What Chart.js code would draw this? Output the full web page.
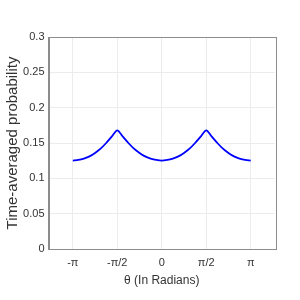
<!DOCTYPE html>
<html>
<head>
<meta charset="utf-8">
<script src="https://cdn.jsdelivr.net/npm/chart.js@4"></script>
<style>
  html, body { margin: 0; padding: 0; background: #fff; }
  #wrap { width: 300px; height: 300px; }
</style>
</head>
<body>
<div id="wrap"><canvas id="chart"></canvas></div>
<script>
// theta in units of pi, step pi/16
const thetaOverPi = [-1, -15/16, -14/16, -13/16, -12/16, -11/16, -10/16, -9/16, -8/16,
  -7/16, -6/16, -5/16, -4/16, -3/16, -2/16, -1/16, 0,
  1/16, 2/16, 3/16, 4/16, 5/16, 6/16, 7/16, 8/16,
  9/16, 10/16, 11/16, 12/16, 13/16, 14/16, 15/16, 1];
const probability = [0.125, 0.126, 0.128, 0.131, 0.136, 0.142, 0.150, 0.159, 0.168,
  0.159, 0.150, 0.142, 0.136, 0.131, 0.128, 0.126, 0.125,
  0.126, 0.128, 0.131, 0.136, 0.142, 0.150, 0.159, 0.168,
  0.159, 0.150, 0.142, 0.136, 0.131, 0.128, 0.126, 0.125];
const xTickValues = [-Math.PI, -Math.PI / 2, 0, Math.PI / 2, Math.PI];
const xTickLabels = ['-\u03c0', '-\u03c0/2', '0', '\u03c0/2', '\u03c0'];
const yTickValues = [0, 0.05, 0.1, 0.15, 0.2, 0.25, 0.3];

const points = thetaOverPi.map((t, i) => ({ x: t * Math.PI, y: probability[i] }));

const boxPlugin = {
  id: 'box',
  afterDraw(chart) {
    const a = chart.chartArea;
    const ctx = chart.ctx;
    ctx.save();
    ctx.strokeStyle = '#8c8c8c';
    ctx.lineWidth = 1;
    ctx.strokeRect(Math.round(a.left) + 0.5, Math.round(a.top) + 0.5,
      Math.round(a.right - a.left), Math.round(a.bottom - a.top));
    ctx.restore();
  }
};

new Chart(document.getElementById('chart'), {
  type: 'line',
  data: {
    datasets: [{
      data: points,
      borderColor: '#0000ff',
      borderWidth: 1.8,
      pointRadius: 0,
      tension: 0.3,
      fill: false
    }]
  },
  options: {
    responsive: true,
    maintainAspectRatio: false,
    animation: false,
    layout: { padding: { left: 4, right: 25, top: 37, bottom: 12 } },
    plugins: { legend: { display: false }, tooltip: { enabled: false } },
    scales: {
      x: {
        type: 'linear',
        min: -4,
        max: 4,
        afterBuildTicks: (scale) => { scale.ticks = xTickValues.map(v => ({ value: v })); },
        afterFit: (scale) => { scale.height = 39; },
        grid: { color: '#ececec', drawTicks: false },
        border: { color: '#8c8c8c' },
        ticks: {
          color: '#333',
          padding: 7,
          font: { family: 'Liberation Sans', size: 11 },
          maxRotation: 0,
          callback: (v) => {
            const i = xTickValues.findIndex(t => Math.abs(t - v) < 1e-6);
            return i >= 0 ? xTickLabels[i] : '';
          }
        },
        title: {
          display: true,
          text: '\u03b8 (In Radians)',
          color: '#333',
          font: { family: 'Liberation Sans', size: 12 },
          padding: { top: 0, bottom: 0 }
        }
      },
      y: {
        min: 0,
        max: 0.3,
        afterBuildTicks: (scale) => { scale.ticks = yTickValues.map(v => ({ value: v })); },
        afterFit: (scale) => { scale.width = 44.5; },
        grid: { color: '#ececec', drawTicks: false },
        border: { color: '#8c8c8c' },
        ticks: {
          color: '#333',
          padding: 4,
          font: { family: 'Liberation Sans', size: 11 },
          callback: (v) => String(Math.round(v * 100) / 100)
        },
        title: {
          display: true,
          text: 'Time-averaged probability',
          color: '#333',
          font: { family: 'Liberation Sans', size: 15 },
          padding: { top: 0, bottom: 0 }
        }
      }
    }
  },
  plugins: [boxPlugin]
});
</script>
</body>
</html>
